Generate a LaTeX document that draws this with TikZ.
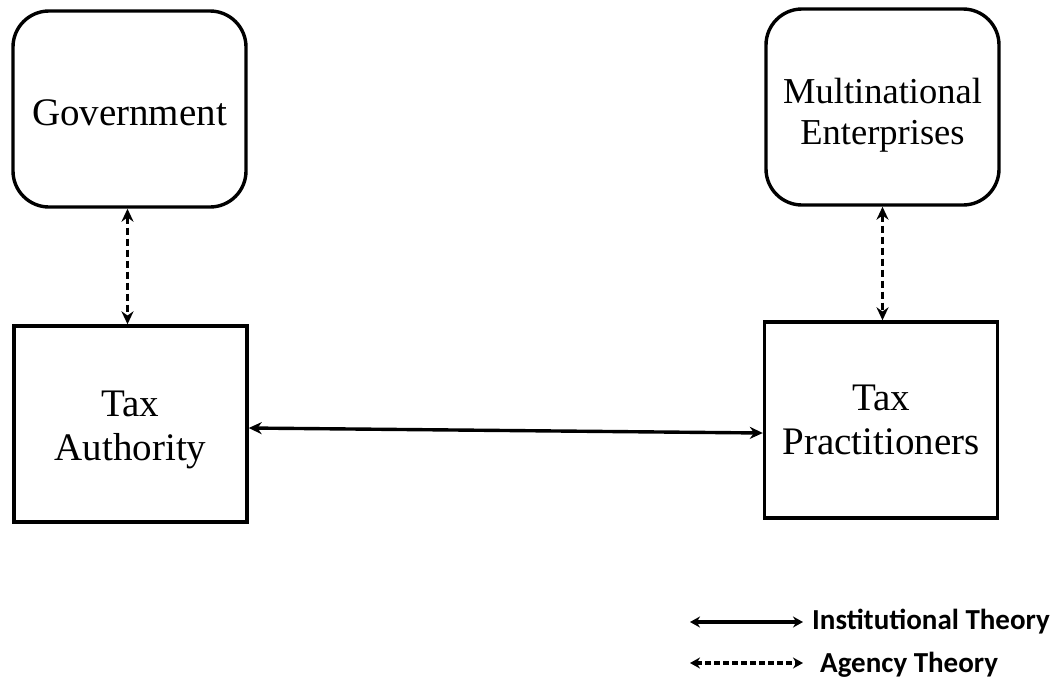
\documentclass[tikz,border=0pt]{standalone}
\usepackage{fontspec}
\setmainfont{Liberation Serif}
\newfontfamily\legendfont{Carlito}
\usepackage{tikz}
\usetikzlibrary{arrows.meta}
\tikzstyle{party}=[draw, line width=3.4pt, align=center, minimum width=233pt, minimum height=196pt, inner sep=0pt, font=\fontsize{39}{44}\selectfont]
\tikzstyle{rparty}=[party, rounded corners=36pt]
\tikzstyle{inst}=[line width=3.4pt, {Stealth[length=13pt,width=12pt]}-{Stealth[length=13pt,width=12pt]}]
\tikzstyle{agency}=[inst, line width=3pt, dash pattern=on 7pt off 4pt]
\tikzstyle{legtext}=[anchor=west, inner sep=0pt, font=\legendfont\bfseries\fontsize{29}{32}\selectfont]
\newcommand{\lowered}[2][5pt]{\raisebox{-#1}[\height][\depth]{\begin{tabular}{@{}c@{}}#2\end{tabular}}}

\begin{document}
\begin{tikzpicture}[x=1pt, y=-1pt]
        \useasboundingbox (0, 0) rectangle (1054, 681);
        \node[rparty] (gov) at (129.5, 109) {\lowered[8pt]{Government}};
        \node[rparty, font=\fontsize{36.5}{41}\selectfont] (mne) at (882.5, 107) {\lowered[8.5pt]{Multinational\\Enterprises}};
        \node[party] (auth) at (130.5, 424) {\lowered[5.5pt]{Tax\\Authority}};
        \node[party] (prac) at (881, 420) {Tax\\Practitioners};
        \draw[agency] ([xshift=-2pt]gov.south) -- ([xshift=-2pt]gov.south |- auth.north);
        \draw[agency] (mne.south) -- (mne.south |- prac.north);
        \draw[inst] ([yshift=-4pt]auth.east) -- ([yshift=-13pt]prac.west);
        % legend
        \coordinate (l1) at (690, 622);
        \coordinate (l2) at (690, 663);
        \node[legtext] (insttext) at (812, 622) {Institutional Theory};
        \node[legtext] (agtext) at (820, 665) {Agency Theory};
        \draw[inst, line width=3.2pt, {Stealth[length=10pt,width=11pt]}-{Stealth[length=10pt,width=11pt]}] (l1) -- ([xshift=-9pt]insttext.west);
        \draw[agency, line width=3.2pt, dash pattern=on 6pt off 3pt, {Stealth[length=10pt,width=11pt]}-{Stealth[length=10pt,width=11pt]}] (l2) -- ([xshift=-17pt]agtext.west |- l2);
    \end{tikzpicture}
\end{document}
